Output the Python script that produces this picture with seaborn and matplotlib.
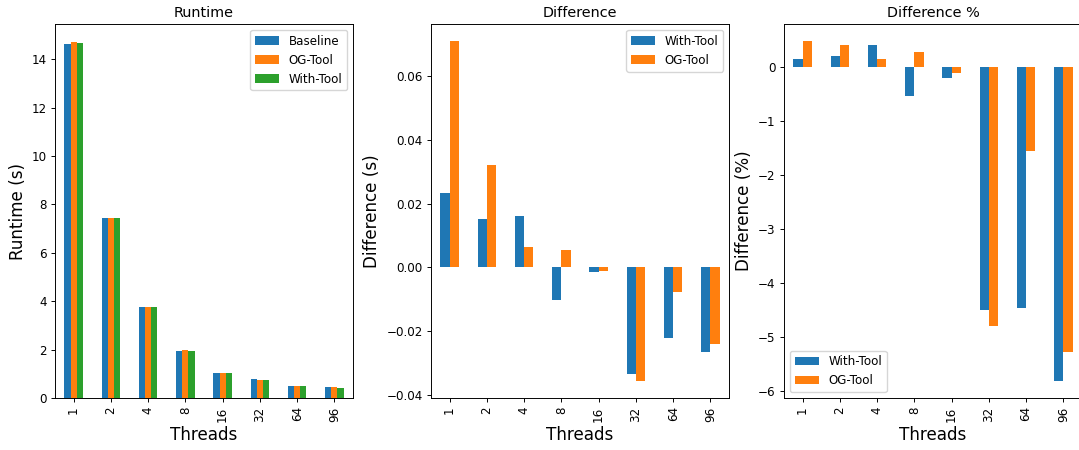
import matplotlib
matplotlib.use("Agg")
import matplotlib.pyplot as plt
import seaborn as sns
import pandas as pd

threads = ["1", "2", "4", "8", "16", "32", "64", "96"]

# Runtime (s)
baseline = [14.65, 7.42, 3.76, 1.96, 1.04, 0.770, 0.510, 0.460]
og_tool = [14.72, 7.45, 3.766, 1.965, 1.039, 0.734, 0.502, 0.436]
with_tool = [14.67, 7.43, 3.776, 1.950, 1.038, 0.736, 0.487, 0.433]

# Difference (s)
diff_with = [0.0234, 0.0153, 0.0162, -0.0102, -0.0016, -0.0336, -0.0223, -0.0266]
diff_og = [0.0711, 0.0320, 0.0064, 0.0055, -0.0010, -0.0357, -0.0077, -0.0241]

# Difference (%)
pct_with = [0.147, 0.20, 0.41, -0.545, -0.20, -4.50, -4.46, -5.81]
pct_og = [0.48, 0.41, 0.147, 0.27, -0.11, -4.79, -1.55, -5.28]

blue, orange, green = "#1f77b4", "#ff7f0e", "#2ca02c"

s = 0.86
plt.rcParams.update({
    "axes.linewidth": 0.8 * s,
    "xtick.major.size": 3.5 * s,
    "ytick.major.size": 3.5 * s,
    "xtick.major.width": 0.8 * s,
    "ytick.major.width": 0.8 * s,
    "xtick.major.pad": 3.5 * s,
    "ytick.major.pad": 3.5 * s,
    "axes.labelpad": 4.0 * s,
    "axes.titlepad": 6.0 * s,
})

fig = plt.figure(figsize=(10.79, 4.5), dpi=100)
W = 298 / 1079
B = 52 / 450
H = 374 / 450
ax1 = fig.add_axes([55 / 1079, B, W, H])
ax2 = fig.add_axes([431 / 1079, B, W, H])
ax3 = fig.add_axes([784 / 1079, B, W, H])


def long(series):
    frames = []
    for name, vals in series:
        frames.append(pd.DataFrame({"Threads": threads, "value": vals, "series": name}))
    return pd.concat(frames, ignore_index=True)


def draw(ax, df, order, colors, title, ylabel, loc):
    sns.barplot(data=df, x="Threads", y="value", hue="series", hue_order=order,
                order=threads, palette=colors, width=0.5, linewidth=0,
                errorbar=None, saturation=1, ax=ax)
    ax.set_title(title, fontsize=12 * s)
    ax.set_xlabel("Threads", fontsize=14 * s)
    ax.set_ylabel(ylabel, fontsize=14 * s)
    ax.tick_params(axis="x", labelrotation=90, labelsize=10 * s)
    ax.tick_params(axis="y", labelsize=10 * s)
    ax.legend(loc=loc, fontsize=10 * s, title=None)


draw(ax1, long([("Baseline", baseline), ("OG-Tool", og_tool), ("With-Tool", with_tool)]),
     ["Baseline", "OG-Tool", "With-Tool"], [blue, orange, green],
     "Runtime", "Runtime (s)", "upper right")
draw(ax2, long([("With-Tool", diff_with), ("OG-Tool", diff_og)]),
     ["With-Tool", "OG-Tool"], [blue, orange],
     "Difference", "Difference (s)", "upper right")
draw(ax3, long([("With-Tool", pct_with), ("OG-Tool", pct_og)]),
     ["With-Tool", "OG-Tool"], [blue, orange],
     "Difference %", "Difference (%)", "lower left")

for ax in (ax1, ax2, ax3):
    ax.set_xlim(-0.5, len(threads) - 0.5)

fig.savefig("out.png", dpi=100)
